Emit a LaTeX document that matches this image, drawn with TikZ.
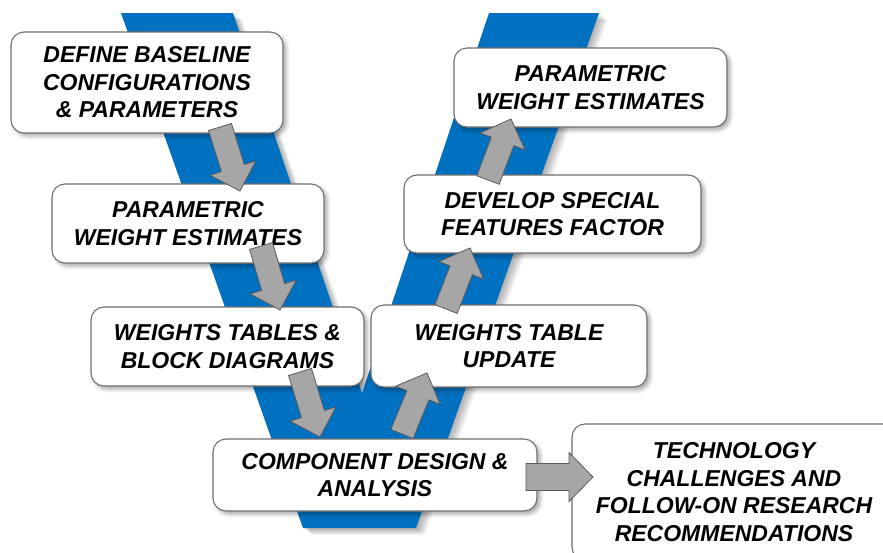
\documentclass[tikz,border=0pt]{standalone}
\usepackage{fontspec}
\setmainfont{Liberation Sans}
\usetikzlibrary{calc,shadows.blur}
\definecolor{vblue}{HTML}{0070C0}
\definecolor{agray}{HTML}{A6A6A6}
\definecolor{aedge}{HTML}{5A5A5A}
\definecolor{bedge}{HTML}{707070}
\tikzset{
  stagebox/.style={draw=bedge, line width=1.1pt, fill=white, rounded corners=13pt,
    align=center, inner sep=0pt,
    font=\fontsize{23}{27.5}\selectfont\bfseries\itshape,
    blur shadow={shadow xshift=3pt, shadow yshift=-3pt, shadow blur radius=4pt, shadow opacity=35}},
  barrow/.style={fill=agray, draw=aedge, line width=0.8pt, line join=miter},
}
\newcommand\blockarr[4]{% tail, tip, shaft half width, head half width
  \coordinate (hb) at ($(#2)!24pt!(#1)$);
  \filldraw[barrow] ($(#1)!#3!90:(#2)$) -- ($(hb)!#3!90:(#2)$) -- ($(hb)!#4!90:(#2)$) -- (#2)
    -- ($(hb)!#4!-90:(#2)$) -- ($(hb)!#3!-90:(#2)$) -- ($(#1)!#3!-90:(#2)$) -- cycle;}
\begin{document}
\begin{tikzpicture}[x=1pt,y=-1pt]
\useasboundingbox (0,0) rectangle (883,552);
\clip (0,0) rectangle (883,552);
% V shadow
\foreach \i in {1,...,10}{
  \begin{scope}[shift={(0.9*\i,0.7*\i)}]
    \fill[black,opacity=0.035] (121,13) -- (233,13) -- (362,393) -- (489,13) -- (599,13) -- (416,528) -- (303,528) -- cycle;
  \end{scope}}
% V
\fill[vblue] (121,13) -- (233,13) -- (362,393) -- (489,13) -- (599,13) -- (416,528) -- (303,528) -- cycle;
% boxes
\node[stagebox, minimum width=272pt, minimum height=101pt] (b1) at (147,82.5) {DEFINE BASELINE\\CONFIGURATIONS\\\& PARAMETERS};
\node[stagebox, minimum width=272pt, minimum height=79pt] (b2) at (188,223.5) {PARAMETRIC\\WEIGHT ESTIMATES};
\node[stagebox, minimum width=273pt, minimum height=79pt] (b3) at (227.5,346.5) {WEIGHTS TABLES \&\\BLOCK DIAGRAMS};
\node[stagebox, minimum width=324pt, minimum height=72pt] (b4) at (375,475) {COMPONENT DESIGN \&\\ANALYSIS};
\node[stagebox, minimum width=324pt, minimum height=136pt] (b5) at (734,492) {TECHNOLOGY\\CHALLENGES AND\\FOLLOW-ON RESEARCH\\RECOMMENDATIONS};
\node[stagebox, minimum width=276pt, minimum height=82pt] (b6) at (509,346) {WEIGHTS TABLE\\UPDATE};
\node[stagebox, minimum width=297pt, minimum height=78pt] (b7) at (552.5,214) {DEVELOP SPECIAL\\FEATURES FACTOR};
\node[stagebox, minimum width=273pt, minimum height=79pt] (b8) at (590.5,87.5) {PARAMETRIC\\WEIGHT ESTIMATES};
% arrow end points
\coordinate (t1) at (220,127); \coordinate (h1) at (240,191);
\coordinate (t2) at (261,246); \coordinate (h2) at (280,310);
\coordinate (t3) at (300,372); \coordinate (h3) at (320,437);
\coordinate (t4) at (402,434); \coordinate (h4) at (427,373);
\coordinate (t5) at (446,309); \coordinate (h5) at (470,248);
\coordinate (t6) at (488,180); \coordinate (h6) at (511,119);
\coordinate (t7) at (526,477); \coordinate (h7) at (593,477);
\blockarr{t1}{h1}{12pt}{24pt}
\blockarr{t2}{h2}{12pt}{24pt}
\blockarr{t3}{h3}{12pt}{24pt}
\blockarr{t4}{h4}{12pt}{24pt}
\blockarr{t5}{h5}{12pt}{24pt}
\blockarr{t6}{h6}{12pt}{24pt}
\blockarr{t7}{h7}{13.5pt}{24.5pt}
\end{tikzpicture}
\end{document}
